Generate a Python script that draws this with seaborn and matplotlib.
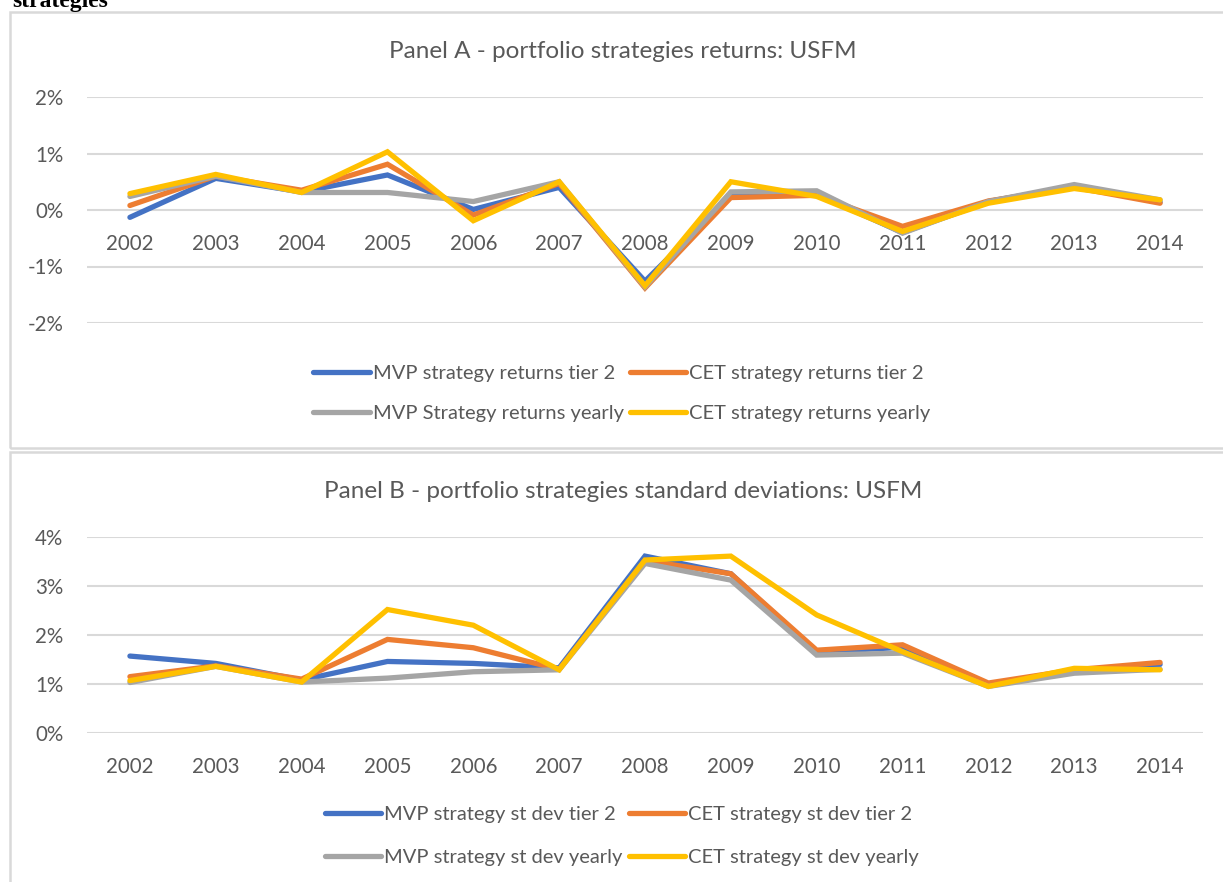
import matplotlib
matplotlib.use("Agg")
import matplotlib.pyplot as plt
import matplotlib.patches as mpatches
from matplotlib.lines import Line2D
from matplotlib.ticker import FuncFormatter
import seaborn as sns
import pandas as pd

### data (values in %)
years = [str(y) for y in range(2002, 2015)]

ret_mvp_tier2 = [-0.13, 0.56, 0.32, 0.62, 0.01, 0.40, -1.26, 0.25, 0.28, -0.40, 0.15, 0.42, 0.14]
ret_cet_tier2 = [0.08, 0.60, 0.35, 0.81, -0.09, 0.47, -1.38, 0.22, 0.26, -0.29, 0.16, 0.40, 0.12]
ret_mvp_yearly = [0.24, 0.60, 0.31, 0.31, 0.15, 0.50, -1.36, 0.32, 0.34, -0.41, 0.15, 0.45, 0.18]
ret_cet_yearly = [0.29, 0.63, 0.31, 1.03, -0.19, 0.50, -1.34, 0.50, 0.24, -0.38, 0.12, 0.38, 0.18]

sd_mvp_tier2 = [1.57, 1.42, 1.08, 1.46, 1.42, 1.33, 3.61, 3.25, 1.65, 1.75, 1.00, 1.25, 1.40]
sd_cet_tier2 = [1.15, 1.37, 1.10, 1.91, 1.74, 1.30, 3.52, 3.25, 1.69, 1.80, 1.02, 1.29, 1.44]
sd_mvp_yearly = [1.03, 1.36, 1.04, 1.12, 1.25, 1.29, 3.46, 3.12, 1.59, 1.63, 0.95, 1.22, 1.30]
sd_cet_yearly = [1.07, 1.36, 1.04, 2.52, 2.20, 1.29, 3.53, 3.61, 2.41, 1.66, 0.95, 1.32, 1.29]

labels_a = ["MVP strategy returns tier 2", "CET strategy returns tier 2",
            "MVP Strategy returns yearly", "CET strategy returns yearly"]
labels_b = ["MVP strategy st dev tier 2", "CET strategy st dev tier 2",
            "MVP strategy st dev yearly", "CET strategy st dev yearly"]
colors = ["#4472C4", "#ED7D31", "#A5A5A5", "#FFC000"]

sns.set_style("white")
plt.rcParams['font.family'] = ['Lato', 'DejaVu Sans']

W, H = 1223, 882
fig = plt.figure(figsize=(W / 100, H / 100), dpi=100)
TXT = "#595959"


def long_df(series, labels):
    rows = []
    for s, lab in zip(series, labels):
        for i, v in enumerate(s):
            rows.append({"x": i, "value": v, "series": lab})
    return pd.DataFrame(rows)


def panel(top, bottom, series, labels, ylim, yticks, zero_axis):
    ax = fig.add_axes([87 / W, 1 - bottom / H, (1203 - 87) / W, (bottom - top) / H])
    df = long_df(series, labels)
    sns.lineplot(data=df, x="x", y="value", hue="series", hue_order=labels,
                 palette=colors, linewidth=3.8, legend=False, ax=ax,
                 solid_capstyle="round", solid_joinstyle="miter")
    ax.set_xlim(-0.5, len(years) - 0.5)
    ax.set_ylim(*ylim)
    ax.set_yticks(yticks)
    ax.yaxis.set_major_formatter(FuncFormatter(lambda v, p: f"{v:.0f}%"))
    ax.set_xticks(range(len(years)))
    ax.set_xticklabels(years)
    ax.grid(axis="y", color="#d9d9d9", linewidth=1.5)
    ax.set_axisbelow(True)
    for s in ax.spines.values():
        s.set_visible(False)
    if zero_axis:
        ax.spines["bottom"].set_position(("data", 0))
    ax.tick_params(axis="x", length=0, pad=17, labelsize=14.8, labelcolor=TXT)
    ax.tick_params(axis="y", length=0, pad=17, labelsize=14.8, labelcolor=TXT)
    ax.set_xlabel("")
    ax.set_ylabel("")
    return ax


panel(97, 323, [ret_mvp_tier2, ret_cet_tier2, ret_mvp_yearly, ret_cet_yearly],
      labels_a, (-2, 2), [-2, -1, 0, 1, 2], True)
panel(537, 733, [sd_mvp_tier2, sd_cet_tier2, sd_mvp_yearly, sd_cet_yearly],
      labels_b, (0, 4), [0, 1, 2, 3, 4], False)

### titles
fig.text(623 / W, 1 - 51 / H, "Panel A - portfolio strategies returns: USFM",
         ha="center", va="center", fontsize=17.5, color=TXT)
fig.text(623 / W, 1 - 491 / H, "Panel B - portfolio strategies standard deviations: USFM",
         ha="center", va="center", fontsize=17.5, color=TXT)


### legends (column-major order -> rows: tier 2, yearly)
def legend(labels, cy, spacing):
    order = [0, 2, 1, 3]
    handles = [Line2D([0], [0], color=colors[i], linewidth=3.8, solid_capstyle="round")
               for i in order]
    fig.legend(handles, [labels[i] for i in order], loc="center",
               bbox_to_anchor=(622 / W, 1 - cy / H), ncol=2, frameon=False,
               fontsize=14.5, labelcolor=TXT, handlelength=2.8, handletextpad=0.15,
               columnspacing=0.3, labelspacing=spacing, borderpad=0)


legend(labels_a, 393.5, 1.1)
legend(labels_b, 836, 1.25)

### panel borders
for y0, y1 in [(12, 448), (452, 890)]:
    fig.patches.append(mpatches.Rectangle((10 / W, 1 - y1 / H), (1230 - 10) / W, (y1 - y0) / H,
                                          transform=fig.transFigure, fill=False,
                                          edgecolor="#d9d9d9", linewidth=1.8))

### cut-off caption text at top (cropped in the source image as well)
fig.text(12 / W, 1 - 7 / H, "strategies", ha="left", va="baseline",
         fontsize=17, fontweight="bold", family="Liberation Serif", color="black")

fig.savefig("out.png", dpi=100)
